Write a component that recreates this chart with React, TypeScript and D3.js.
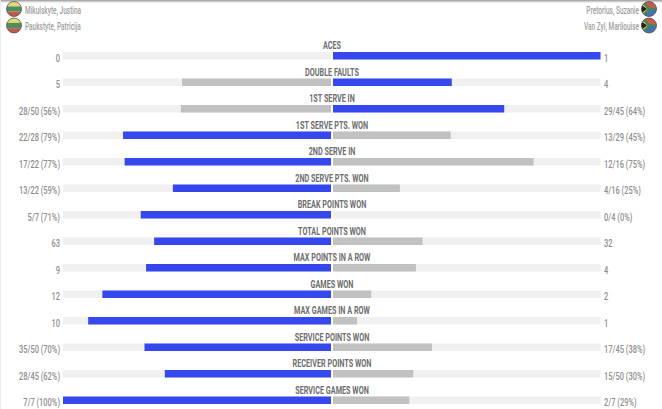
import React from "react";
import * as d3 from "d3";

const categories = ["ACES","DOUBLE FAULTS","1ST SERVE IN","1ST SERVE PTS. WON","2ND SERVE IN","2ND SERVE PTS. WON","BREAK POINTS WON","TOTAL POINTS WON","MAX POINTS IN A ROW","GAMES WON","MAX GAMES IN A ROW","SERVICE POINTS WON","RECEIVER POINTS WON","SERVICE GAMES WON"];
const leftLabels = ["0","5","28/50 (56%)","22/28 (79%)","17/22 (77%)","13/22 (59%)","5/7 (71%)","63","9","12","10","35/50 (70%)","28/45 (62%)","7/7 (100%)"];
const rightLabels = ["1","4","29/45 (64%)","13/29 (45%)","12/16 (75%)","4/16 (25%)","0/4 (0%)","32","4","2","1","17/45 (38%)","15/50 (30%)","2/7 (29%)"];
const leftShare = [0,55.6,56,77.6,77,59,71,66,69,85.3,90.6,69.6,62,100];
const rightShare = [100,44.4,64,44,75,25,0,33.5,31,14.3,9,37,30,28.5];
const leftIsBlue = [false,false,false,true,true,true,true,true,true,true,true,true,true,true];
const leftPlayers = ["Mikulskyte, Justina","Paukstyte, Patricija"];
const rightPlayers = ["Pretorius, Suzanie","Van Zyl, Marilouise"];

const W = 662, H = 409;
const FONT = "Roboto,sans-serif";
const BLUE = "#3548ee", GREY = "#c1c1c1", TRACK = "#f0f0f0", TEXT = "#8f8f8f", TITLE = "#6e6e6e";

const rowY = d3.scaleLinear().domain([0, 13]).range([52, 396.5]);
const leftX = d3.scaleLinear().domain([0, 100]).range([331, 63]);
const rightX = d3.scaleLinear().domain([0, 100]).range([333, 600.5]);
const BAR_H = 7.5;

function Narrow({ x, y, k, anchor = "start", size, weight = 400, fill, children }: any) {
  return (
    <text transform={`translate(${x},${y}) scale(${k},1)`} textAnchor={anchor} fontFamily={FONT} fontSize={size} fontWeight={weight} fill={fill}>
      {children}
    </text>
  );
}

function LtFlag({ cx, cy, id }: { cx: number; cy: number; id: string }) {
  return (
    <g>
      <clipPath id={id}><circle cx={cx} cy={cy} r={7.5} /></clipPath>
      <g clipPath={`url(#${id})`}>
        <rect x={cx - 8} y={cy - 8} width={16} height={5.6} fill="#e3d97a" />
        <rect x={cx - 8} y={cy - 2.6} width={16} height={5.2} fill="#4f8f5a" />
        <rect x={cx - 8} y={cy + 2.6} width={16} height={5.4} fill="#bd5a52" />
      </g>
      <circle cx={cx} cy={cy} r={7.5} fill="none" stroke="#444" strokeWidth={0.7} />
    </g>
  );
}

function ZaFlag({ cx, cy, id }: { cx: number; cy: number; id: string }) {
  return (
    <g>
      <clipPath id={id}><circle cx={cx} cy={cy} r={7.5} /></clipPath>
      <g clipPath={`url(#${id})`}>
        <rect x={cx - 8} y={cy - 8} width={16} height={8} fill="#c9584f" />
        <rect x={cx - 8} y={cy} width={16} height={8} fill="#4a6fb0" />
        <path d={`M${cx - 8} ${cy - 6}L${cx} ${cy}L${cx - 8} ${cy + 6}Z`} fill="#e3c75a" />
        <path d={`M${cx - 8} ${cy - 4.5}L${cx - 2} ${cy}L${cx - 8} ${cy + 4.5}Z`} fill="#222" />
        <path d={`M${cx - 5} ${cy - 6}L${cx} ${cy}H${cx + 8}M${cx - 5} ${cy + 6}L${cx} ${cy}`} stroke="#3e8a5c" strokeWidth={2.4} fill="none" />
      </g>
      <circle cx={cx} cy={cy} r={7.5} fill="none" stroke="#444" strokeWidth={0.7} />
    </g>
  );
}

export default function App() {
  return (
    <svg width={W} height={H} viewBox={`0 0 ${W} ${H}`} style={{ position: "fixed", left: 0, top: 0, background: "#fff" }}>
      <defs>
        <linearGradient id="topShade" x1="0" y1="0" x2="0" y2="1">
          <stop offset="0" stopColor="#9a9a9a" />
          <stop offset="1" stopColor="#ffffff" />
        </linearGradient>
      </defs>
      <rect x={0} y={0} width={W} height={3} fill="url(#topShade)" />
      <rect x={0} y={0} width={1} height={H} fill="#ececec" />

      {leftPlayers.map((p, i) => (
        <g key={p}>
          <LtFlag cx={14} cy={9 + i * 16.5} id={`lt${i}`} />
          <Narrow x={25} y={13.5 + i * 16.5} k={0.65} size={10} weight={500} fill="#a0a0a0">{p}</Narrow>
        </g>
      ))}
      {rightPlayers.map((p, i) => (
        <g key={p}>
          <ZaFlag cx={649} cy={9 + i * 16.5} id={`za${i}`} />
          <Narrow x={639} y={13.5 + i * 16.5} k={0.65} anchor="end" size={10} weight={500} fill="#a0a0a0">{p}</Narrow>
        </g>
      ))}

      {categories.map((c, i) => {
        const y = rowY(i);
        return (
          <g key={c}>
            <rect x={leftX(100)} y={y} width={leftX(0) - leftX(100)} height={BAR_H} fill={TRACK} />
            <rect x={rightX(0)} y={y} width={rightX(100) - rightX(0)} height={BAR_H} fill={TRACK} />
            <rect x={leftX(leftShare[i])} y={y} width={leftX(0) - leftX(leftShare[i])} height={BAR_H} fill={leftIsBlue[i] ? BLUE : GREY} />
            <rect x={rightX(0)} y={y} width={rightX(rightShare[i]) - rightX(0)} height={BAR_H} fill={leftIsBlue[i] ? GREY : BLUE} />
            <Narrow x={332} y={y - 3} k={0.63} anchor="middle" size={11.5} weight={700} fill={TITLE}>{c}</Narrow>
            <Narrow x={60} y={y + 9.5} k={0.75} anchor="end" size={10} weight={500} fill={TEXT}>{leftLabels[i]}</Narrow>
            <Narrow x={604} y={y + 9.5} k={0.75} size={10} weight={500} fill={TEXT}>{rightLabels[i]}</Narrow>
          </g>
        );
      })}
    </svg>
  );
}
